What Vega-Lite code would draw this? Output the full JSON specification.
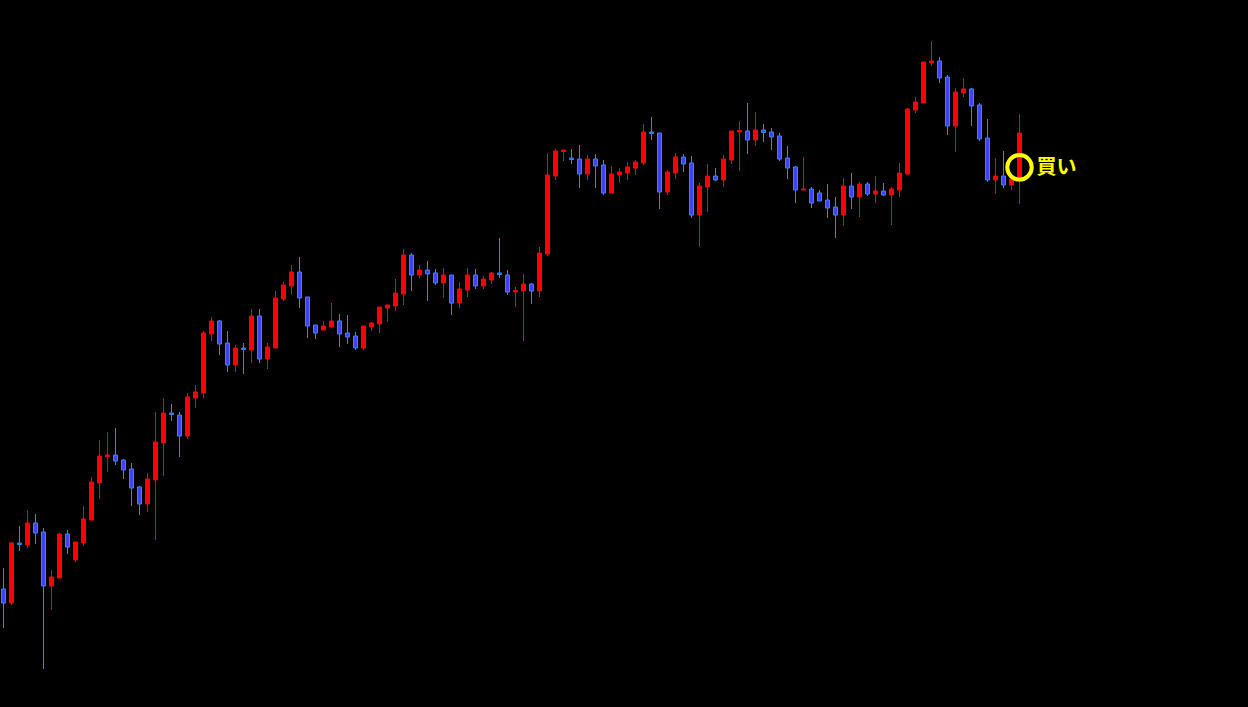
{
  "$schema": "https://vega.github.io/schema/vega-lite/v6.json",
  "width": 1248,
  "height": 707,
  "autosize": {"type": "none"},
  "padding": 0,
  "background": "#000000",
  "config": {"view": {"stroke": null}, "axis": {"disable": true}},
  "datasets": {
    "candles": [
      {"i":0,"o":118,"h":139,"l":79,"c":104},
      {"i":1,"o":104,"h":165,"l":102,"c":164},
      {"i":2,"o":164,"h":181,"l":156,"c":162.5},
      {"i":3,"o":162,"h":197,"l":159,"c":184},
      {"i":4,"o":184,"h":193,"l":163,"c":174},
      {"i":5,"o":175,"h":179,"l":38,"c":121},
      {"i":6,"o":121,"h":137,"l":97,"c":130},
      {"i":7,"o":129,"h":174,"l":129,"c":173},
      {"i":8,"o":173,"h":177,"l":153,"c":160},
      {"i":9,"o":147,"h":165,"l":145,"c":165},
      {"i":10,"o":164,"h":201,"l":161,"c":188},
      {"i":11,"o":187,"h":230,"l":187,"c":225},
      {"i":12,"o":224,"h":267,"l":208,"c":251},
      {"i":13,"o":250.5,"h":275,"l":235,"c":252},
      {"i":14,"o":252,"h":279,"l":242,"c":246},
      {"i":15,"o":247,"h":248,"l":228,"c":237},
      {"i":16,"o":238,"h":244,"l":201,"c":219},
      {"i":17,"o":220,"h":221,"l":192,"c":203},
      {"i":18,"o":203,"h":234,"l":195,"c":228},
      {"i":19,"o":227,"h":295,"l":167,"c":265},
      {"i":20,"o":264,"h":309,"l":231,"c":294},
      {"i":21,"o":294,"h":303,"l":286,"c":292.5},
      {"i":22,"o":292,"h":295,"l":250,"c":271},
      {"i":23,"o":271,"h":314,"l":268,"c":310},
      {"i":24,"o":309,"h":322,"l":299,"c":315},
      {"i":25,"o":314,"h":376,"l":309,"c":374},
      {"i":26,"o":373,"h":390,"l":366,"c":386},
      {"i":27,"o":386,"h":387,"l":352,"c":363},
      {"i":28,"o":364,"h":376,"l":335,"c":342},
      {"i":29,"o":342,"h":362,"l":335,"c":359},
      {"i":30,"o":359,"h":364,"l":333,"c":357.5},
      {"i":31,"o":357,"h":398,"l":344,"c":391},
      {"i":32,"o":391,"h":398,"l":344,"c":348},
      {"i":33,"o":348,"h":364,"l":338,"c":360},
      {"i":34,"o":359,"h":416,"l":359,"c":409},
      {"i":35,"o":408,"h":425,"l":406,"c":422},
      {"i":36,"o":421,"h":442,"l":412,"c":435},
      {"i":37,"o":435,"h":450,"l":399,"c":409},
      {"i":38,"o":410,"h":410,"l":369,"c":381},
      {"i":39,"o":382,"h":382,"l":368,"c":374},
      {"i":40,"o":377,"h":386,"l":377,"c":381},
      {"i":41,"o":380,"h":404,"l":380,"c":386},
      {"i":42,"o":386,"h":393,"l":360,"c":373},
      {"i":43,"o":374,"h":392,"l":363,"c":370},
      {"i":44,"o":371,"h":375,"l":357,"c":359},
      {"i":45,"o":359,"h":381,"l":357,"c":381},
      {"i":46,"o":380,"h":385,"l":376,"c":384},
      {"i":47,"o":383,"h":400,"l":374,"c":400},
      {"i":48,"o":399,"h":402,"l":385,"c":402},
      {"i":49,"o":401,"h":428,"l":396,"c":414},
      {"i":50,"o":413,"h":458,"l":402,"c":452},
      {"i":51,"o":452,"h":454,"l":416,"c":432},
      {"i":52,"o":432,"h":442,"l":429,"c":437},
      {"i":53,"o":437,"h":446,"l":406,"c":433},
      {"i":54,"o":434,"h":438,"l":422,"c":424},
      {"i":55,"o":424,"h":439,"l":409,"c":432},
      {"i":56,"o":432,"h":432,"l":392,"c":404},
      {"i":57,"o":404,"h":425,"l":399,"c":418},
      {"i":58,"o":417,"h":439,"l":410,"c":432},
      {"i":59,"o":432,"h":438,"l":418,"c":421},
      {"i":60,"o":421,"h":431,"l":418,"c":428},
      {"i":61,"o":427,"h":435,"l":423,"c":434},
      {"i":62,"o":434,"h":469,"l":429,"c":432.5},
      {"i":63,"o":432,"h":437,"l":412,"c":415},
      {"i":64,"o":415,"h":420,"l":400,"c":416.5},
      {"i":65,"o":416,"h":433,"l":366,"c":423},
      {"i":66,"o":423,"h":424,"l":403,"c":416},
      {"i":67,"o":416,"h":460,"l":410,"c":454},
      {"i":68,"o":453,"h":554,"l":451,"c":532},
      {"i":69,"o":531,"h":558,"l":527,"c":556},
      {"i":70,"o":555.5,"h":557,"l":546,"c":557},
      {"i":71,"o":549,"h":558,"l":543,"c":547.5},
      {"i":72,"o":548,"h":562,"l":519,"c":533},
      {"i":73,"o":533,"h":552,"l":527,"c":548},
      {"i":74,"o":548,"h":553,"l":519,"c":541},
      {"i":75,"o":542,"h":547,"l":512,"c":514},
      {"i":76,"o":514,"h":541,"l":514,"c":533},
      {"i":77,"o":532,"h":539,"l":524,"c":535},
      {"i":78,"o":534,"h":545,"l":527,"c":540},
      {"i":79,"o":539,"h":547,"l":532,"c":545},
      {"i":80,"o":544,"h":583,"l":542,"c":575},
      {"i":81,"o":575,"h":590,"l":567,"c":573.5},
      {"i":82,"o":574,"h":574,"l":498,"c":515},
      {"i":83,"o":515,"h":537,"l":512,"c":535},
      {"i":84,"o":534,"h":554,"l":528,"c":550},
      {"i":85,"o":550,"h":553,"l":535,"c":543},
      {"i":86,"o":544,"h":551,"l":489,"c":492},
      {"i":87,"o":492,"h":524,"l":460,"c":521},
      {"i":88,"o":520,"h":543,"l":495,"c":531},
      {"i":89,"o":531,"h":539,"l":526,"c":527},
      {"i":90,"o":527,"h":552,"l":520,"c":548},
      {"i":91,"o":547,"h":576,"l":543,"c":576},
      {"i":92,"o":575,"h":586,"l":536,"c":576.5},
      {"i":93,"o":576,"h":604,"l":553,"c":567},
      {"i":94,"o":567,"h":595,"l":561,"c":577},
      {"i":95,"o":577,"h":583,"l":565,"c":574.5},
      {"i":96,"o":575,"h":579,"l":557,"c":570},
      {"i":97,"o":571,"h":574,"l":546,"c":548},
      {"i":98,"o":549,"h":561,"l":528,"c":539},
      {"i":99,"o":540,"h":541,"l":504,"c":517},
      {"i":100,"o":517,"h":550,"l":517,"c":518},
      {"i":101,"o":518,"h":520,"l":499,"c":504},
      {"i":102,"o":514,"h":517,"l":506,"c":506},
      {"i":103,"o":507,"h":523,"l":489,"c":499},
      {"i":104,"o":500,"h":510,"l":469,"c":492},
      {"i":105,"o":492,"h":529,"l":481,"c":521},
      {"i":106,"o":521,"h":534,"l":498,"c":510},
      {"i":107,"o":510,"h":525,"l":490,"c":523},
      {"i":108,"o":523,"h":525,"l":511,"c":513},
      {"i":109,"o":513,"h":531,"l":504,"c":516},
      {"i":110,"o":516,"h":524,"l":511,"c":512},
      {"i":111,"o":512,"h":520,"l":482,"c":518},
      {"i":112,"o":517,"h":544,"l":510,"c":534},
      {"i":113,"o":533,"h":599,"l":533,"c":598},
      {"i":114,"o":597,"h":610,"l":594,"c":605},
      {"i":115,"o":604,"h":645,"l":604,"c":645},
      {"i":116,"o":644,"h":666,"l":641,"c":646},
      {"i":117,"o":646,"h":650,"l":624,"c":629},
      {"i":118,"o":630,"h":632,"l":572,"c":581},
      {"i":119,"o":581,"h":619,"l":555,"c":615},
      {"i":120,"o":614,"h":629,"l":610,"c":618},
      {"i":121,"o":618,"h":619,"l":581,"c":601},
      {"i":122,"o":602,"h":604,"l":566,"c":568},
      {"i":123,"o":569,"h":588,"l":525,"c":527},
      {"i":124,"o":527,"h":549,"l":513,"c":531},
      {"i":125,"o":531,"h":556,"l":519,"c":522},
      {"i":126,"o":522,"h":532,"l":517,"c":528},
      {"i":127,"o":527,"h":593,"l":503,"c":574}
    ],
    "signal": [{"i":127,"p":539.7,"label":"買い"}]
  },
  "layer": [
    {
      "data": {"name": "candles"},
      "transform": [{"calculate": "datum.c >= datum.o ? 'up' : 'down'", "as": "dir"}],
      "layer": [
        {
          "mark": {"type": "rule", "strokeWidth": 1},
          "encoding": {
            "x": {"field": "i", "type": "quantitative", "scale": {"domain": [-0.4375, 155.5625], "nice": false, "zero": false, "padding": 0}, "axis": null},
            "y": {"field": "l", "type": "quantitative", "scale": {"domain": [0, 707], "nice": false, "zero": false, "padding": 0}, "axis": null},
            "y2": {"field": "h"},
            "color": {"field": "dir", "type": "nominal", "scale": {"domain": ["up", "down"], "range": ["#ff0000", "#1e90ff"]}, "legend": null}
          }
        },
        {
          "mark": {"type": "bar", "size": 4, "strokeWidth": 1, "opacity": 1},
          "encoding": {
            "x": {"field": "i", "type": "quantitative"},
            "y": {"field": "o", "type": "quantitative"},
            "y2": {"field": "c"},
            "fill": {"field": "dir", "type": "nominal", "scale": {"domain": ["up", "down"], "range": ["#ff0000", "#4040ff"]}, "legend": null},
            "stroke": {"field": "dir", "type": "nominal", "scale": {"domain": ["up", "down"], "range": ["#ff0000", "#1e90ff"]}, "legend": null}
          }
        }
      ]
    },
    {
      "data": {"name": "signal"},
      "layer": [
        {
          "mark": {"type": "point", "shape": "circle", "filled": false, "size": 600, "strokeWidth": 4, "color": "#ffff00", "opacity": 1},
          "encoding": {
            "x": {"field": "i", "type": "quantitative"},
            "y": {"field": "p", "type": "quantitative"}
          }
        },
        {
          "mark": {"type": "text", "align": "left", "baseline": "middle", "dx": 17, "dy": 1, "font": "Noto Sans CJK JP", "fontSize": 20, "fontWeight": "bold", "color": "#ffff00"},
          "encoding": {
            "x": {"field": "i", "type": "quantitative"},
            "y": {"field": "p", "type": "quantitative"},
            "text": {"field": "label"}
          }
        }
      ]
    }
  ]
}
